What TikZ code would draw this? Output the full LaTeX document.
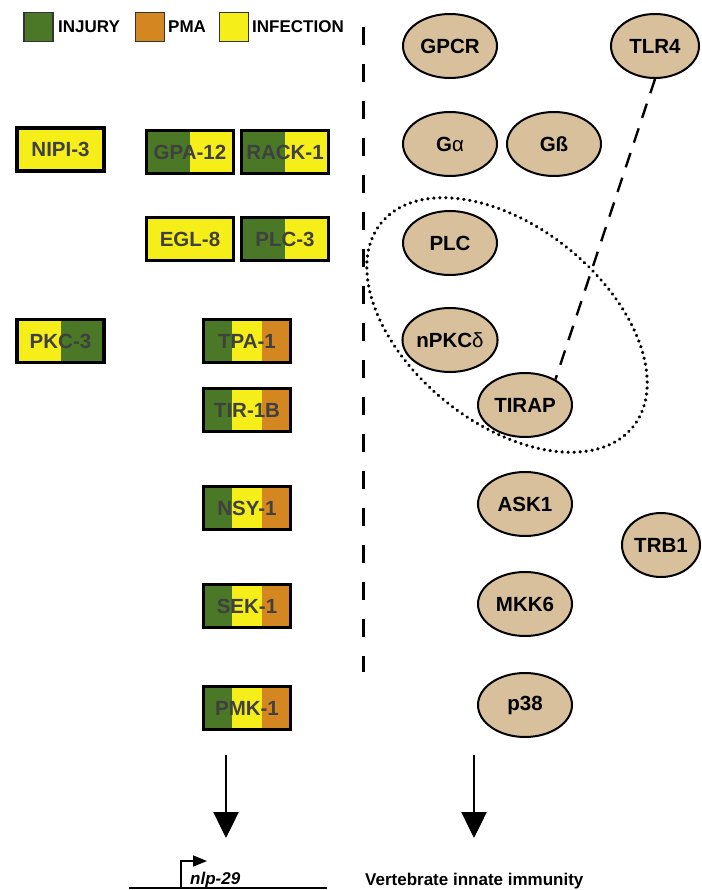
\documentclass[tikz,border=0pt]{standalone}
\usepackage{fontspec}
\setmainfont{Liberation Sans}
\usetikzlibrary{shapes.geometric,arrows.meta}
\definecolor{injury}{RGB}{74,120,38}
\definecolor{pma}{RGB}{212,134,32}
\definecolor{infection}{RGB}{246,238,24}
\definecolor{protein}{RGB}{215,192,155}
\newcommand{\generim}{\draw[line width=5.4pt,black] (path picture bounding box.south west) rectangle (path picture bounding box.north east);}
\begin{document}
\begin{tikzpicture}[x=1pt,y=-1pt,
	gene/.style={draw,line width=1.2pt,minimum width=89pt,minimum height=45pt,inner sep=0pt,text=black!75,font=\fontsize{20.5}{24}\selectfont\bfseries},
	infonly/.style={gene,fill=infection,path picture={\generim}},
	injinf/.style={gene,fill=infection,path picture={\fill[injury] (path picture bounding box.south west) rectangle (path picture bounding box.north);\generim}},
	infinj/.style={gene,fill=infection,path picture={\fill[injury] (path picture bounding box.south) rectangle (path picture bounding box.north east);\generim}},
	allthree/.style={gene,fill=infection,path picture={\fill[injury] (path picture bounding box.south west) rectangle ([xshift=-14.8pt]path picture bounding box.north);\fill[pma] ([xshift=14.8pt]path picture bounding box.south) rectangle (path picture bounding box.north east);\generim}},
	prot/.style={ellipse,draw,line width=2pt,fill=protein,minimum width=94pt,minimum height=64pt,inner sep=0pt,font=\fontsize{20.5}{24}\selectfont\bfseries},
	legendbox/.style={draw=black!80,line width=1.8pt,minimum size=29pt,inner sep=0pt},
	legendtext/.style={anchor=west,inner sep=0pt,font=\fontsize{17}{20}\selectfont\bfseries},
	bigarrow/.style={line width=2.5pt,-{Triangle[width=25pt,length=26pt]}}]
	\useasboundingbox (0,0) rectangle (701,890);
	\node[legendbox,fill=injury] (keyinj) at (38.5,27) {};
	\node[legendtext] (txtinj) at (58,27) {INJURY};
	\node[legendbox,fill=pma] (keypma) at (150,27) {};
	\node[legendtext] (txtpma) at (168,27) {PMA};
	\node[legendbox,fill=infection] (keyinf) at (234,27) {};
	\node[legendtext] (txtinf) at (252,27) {INFECTION};
	\draw[line width=3pt,dash pattern=on 18pt off 19pt] (363,27) -- (363,672);
	\node[infonly] (nipi) at (60.5,149.5) {NIPI-3};
	\node[injinf] (gpa) at (190,152) {GPA-12};
	\node[injinf] (rack) at (285,152) {RACK-1};
	\node[infonly] (egl) at (190,239) {EGL-8};
	\node[injinf] (plc3) at (285,239) {PLC-3};
	\node[infinj] (pkc) at (60.5,341) {PKC-3};
	\node[allthree] (tpa) at (247,341) {TPA-1};
	\node[allthree] (tir) at (247,410) {TIR-1B};
	\node[allthree] (nsy) at (247,508) {NSY-1};
	\node[allthree] (sek) at (247,606) {SEK-1};
	\node[allthree] (pmk) at (247,708) {PMK-1};
	\node[prot] (gpcr) at (450,46) {GPCR};
	\node[prot,minimum width=88pt] (tlr4) at (655,46) {TLR4};
	\node[prot] (galpha) at (450,144) {G\textmd{α}};
	\node[prot] (gbeta) at (554,144) {Gß};
	\node[prot] (plc) at (450,243) {PLC};
	\node[prot] (npkc) at (450,340) {nPKC\textmd{δ}};
	\node[prot] (tirap) at (525,405) {TIRAP};
	\node[prot] (ask) at (525,504) {ASK1};
	\node[prot,minimum width=78pt] (trb) at (661,545) {TRB1};
	\node[prot] (mkk) at (525,604) {MKK6};
	\node[prot] (p38) at (525,705) {p38};
	\node[ellipse,draw,line width=3.6pt,dash pattern=on 0.01pt off 6pt,line cap=round,minimum width=324pt,minimum height=196pt,rotate=-39] (cluster) at (507,325) {};
	\draw[line width=2.4pt,dash pattern=on 15pt off 11pt] (tlr4.south) -- (tirap.40);
	\coordinate (wormtop) at (226,755);
	\coordinate (wormtip) at (226,838);
	\coordinate (vertop) at (474,755);
	\coordinate (vertip) at (474,838);
	\draw[bigarrow] (wormtop) -- (wormtip);
	\draw[bigarrow] (vertop) -- (vertip);
	\draw[line width=1.6pt] (129,888) -- (327,888);
	\draw[line width=1.6pt,-{Triangle[width=11pt,length=14pt]}] (181,888) |- (207,861);
	\node[anchor=base west,inner sep=0pt,font=\fontsize{17}{20}\selectfont\bfseries\itshape] (nlp) at (190,884) {nlp-29};
	\node[anchor=base west,inner sep=0pt,font=\fontsize{17}{20}\selectfont\bfseries] (vert) at (365,885) {Vertebrate innate immunity};
\end{tikzpicture}
\end{document}
